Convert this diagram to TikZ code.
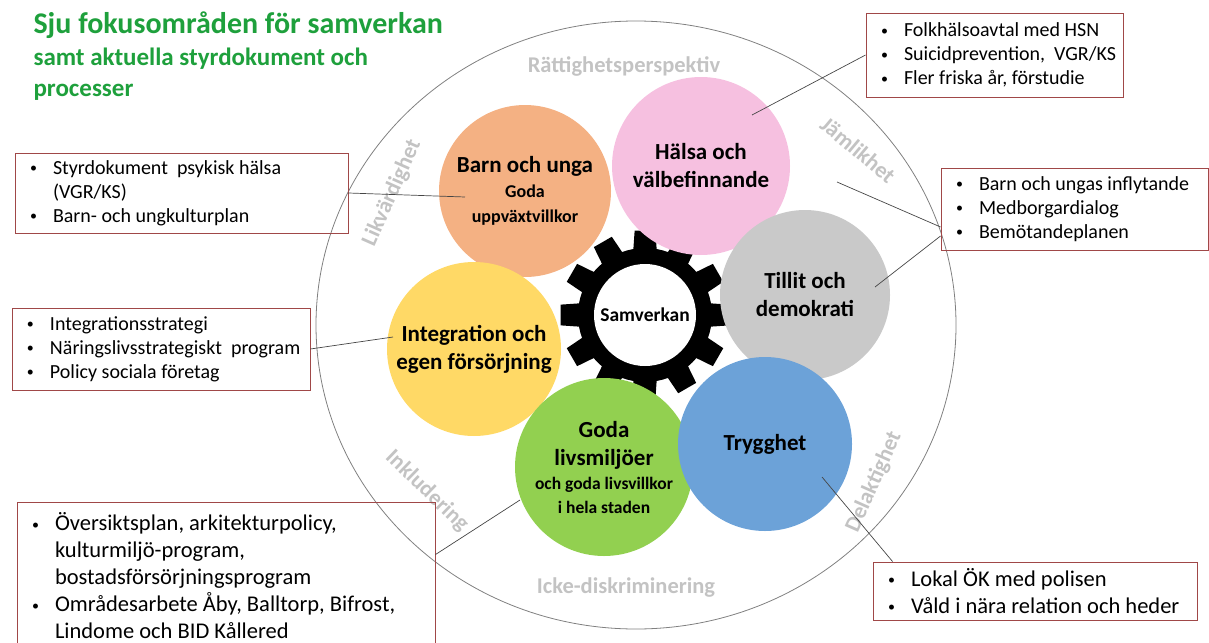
\documentclass[tikz,border=0pt]{standalone}
\usepackage{fontspec}
\setmainfont{Carlito}
\usepackage{tikz}

\definecolor{rubrik}{RGB}{30,160,60}
\definecolor{ram}{RGB}{160,72,72}
\definecolor{ledgra}{RGB}{70,70,70}
\definecolor{vardegra}{RGB}{195,195,195}
\definecolor{barnfarg}{RGB}{244,177,131}
\definecolor{halsafarg}{RGB}{246,192,224}
\definecolor{tillitfarg}{RGB}{201,201,201}
\definecolor{integrfarg}{RGB}{255,217,102}
\definecolor{livsfarg}{RGB}{146,208,80}
\definecolor{tryggfarg}{RGB}{108,162,216}

\newcommand{\pkt}{\makebox[38pt][l]{\hspace*{15pt}\raisebox{1.5pt}{\fontsize{14}{14}\selectfont•}}}
\newcommand{\fortsatt}{\hspace*{38pt}}

\begin{document}
\begin{tikzpicture}[x=1pt, y=-1pt,
  omrade/.style={circle, inner sep=0pt, minimum size=#1, align=center, font=\bfseries\fontsize{23}{28}\selectfont},
  ruta/.style={draw=ram, line width=0.9pt, inner sep=0pt, align=flush left, font=\fontsize{20}{24}\selectfont},
  storruta/.style={ruta, font=\fontsize{22.5}{27}\selectfont},
  varde/.style={text=vardegra, font=\bfseries\fontsize{22.5}{27}\selectfont},
  ledare/.style={draw=ledgra, line width=0.7pt}]
  \useasboundingbox (0,0) rectangle (1209,642);

  % rubrik
  \node [anchor=base west, text=rubrik, font=\bfseries\fontsize{30}{36}\selectfont] (titel) at (30,34) {Sju fokusområden för samverkan};
  \node [anchor=base west, text=rubrik, font=\bfseries\fontsize{25}{30}\selectfont] (under1) at (30,66) {samt aktuella styrdokument och};
  \node [anchor=base west, text=rubrik, font=\bfseries\fontsize{25}{30}\selectfont] (under2) at (30,96) {processer};

  % yttre ring med värden
  \draw [draw=gray, line width=0.8pt] (636,325) ellipse [x radius=320pt, y radius=304pt];
  \node [varde] (rattighet) at (624,66) {Rättighetsperspektiv};
  \node [varde, rotate=-40] (jamlikhet) at (858,150) {Jämlikhet};
  \node [varde, rotate=66] (likvardighet) at (392,193) {Likvärdighet};
  \node [varde, rotate=-44] (inkludering) at (427,491) {Inkludering};
  \node [varde] (ickediskr) at (626,588) {Icke-diskriminering};
  \node [varde, rotate=66] (delaktighet) at (874,482) {Delaktighet};

  % kugghjul
  \begin{scope}[shift={(645,315)}]
    \fill [black] (-15:67pt) \foreach \v in {0,30,...,330} { -- ({\v-10}:67pt) -- ({\v-7}:85pt) -- ({\v+7}:85pt) -- ({\v+10}:67pt) -- ({\v+15}:67pt)} -- cycle;
  \end{scope}

  % fokusområden
  \node [omrade=172pt, fill=barnfarg] (barn) at (525,191) {Barn och unga\\[-3pt]{\fontsize{18}{22}\selectfont Goda}\\[-3pt]{\fontsize{18}{22}\selectfont uppväxtvillkor}};
  \node [omrade=178pt, fill=halsafarg] (halsa) at (701,166) {Hälsa och\\välbefinnande};
  \node [omrade=170pt, fill=tillitfarg] (tillit) at (805,295) {Tillit och\\demokrati};
  \node [omrade=174pt, fill=integrfarg] (integration) at (474,349) {Integration och\\egen försörjning};
  \node [omrade=178pt, fill=livsfarg] (livsmiljo) at (604,467) {Goda\\livsmiljöer\\[-4pt]{\fontsize{17.5}{20}\selectfont och goda livsvillkor}\\[-4pt]{\fontsize{17.5}{20}\selectfont i hela staden}};
  \node [omrade=174pt, fill=tryggfarg] (trygghet) at (765,444) {Trygghet};
  \node [circle, fill=white, inner sep=0pt, minimum size=102pt, font=\bfseries\fontsize{19.5}{23}\selectfont] (samverkan) at (645,315) {Samverkan};

  % styrdokument
  \node [ruta, text width=257pt, minimum height=84pt] (ruta1) at (994.5,55) {\pkt Folkhälsoavtal med HSN\\\pkt Suicidprevention,\ \ VGR/KS\\\pkt Fler friska år, förstudie};
  \node [ruta, text width=333pt, minimum height=80pt] (ruta2) at (181.5,193) {\pkt Styrdokument\ \ psykisk hälsa\\\fortsatt (VGR/KS)\\\pkt Barn- och ungkulturplan};
  \node [ruta, text width=267pt, minimum height=82pt] (ruta3) at (1074.5,209) {\pkt Barn och ungas inflytande\\\pkt Medborgardialog\\\pkt Bemötandeplanen};
  \node [ruta, text width=298pt, minimum height=82pt] (ruta4) at (161,349) {\pkt Integrationsstrategi\\\pkt Näringslivsstrategiskt\ \ program\\\pkt Policy sociala företag};
  \node [storruta, text width=418pt, minimum height=148pt] (ruta5) at (226,576) {\pkt Översiktsplan, arkitekturpolicy,\\\fortsatt kulturmiljö-program,\\\fortsatt bostadsförsörjningsprogram\\\pkt Områdesarbete Åby, Balltorp, Bifrost,\\\fortsatt Lindome och BID Kållered};
  \node [storruta, text width=324pt, minimum height=58pt] (ruta6) at (1035,591) {\pkt Lokal ÖK med polisen\\\pkt Våld i nära relation och heder};

  % ledare
  \coordinate (p1) at (752,115);
  \coordinate (p2) at (465,197);
  \coordinate (p3) at (837,182);
  \coordinate (p4) at (875,287);
  \coordinate (p5) at (393,337);
  \coordinate (p6) at (520,500);
  \coordinate (p7) at (822,477);
  \draw [ledare] (ruta1.west) -- (p1);
  \draw [ledare] (ruta2.east) -- (p2);
  \draw [ledare] ([yshift=-18pt]ruta3.west) -- (p3);
  \draw [ledare] ([yshift=-27pt]ruta3.west) -- (p4);
  \draw [ledare] (ruta4.east) -- (p5);
  \draw [ledare] ([yshift=-53pt]ruta5.north east) -- (p6);
  \draw [ledare] ([xshift=20pt]ruta6.north west) -- (p7);
\end{tikzpicture}
\end{document}
